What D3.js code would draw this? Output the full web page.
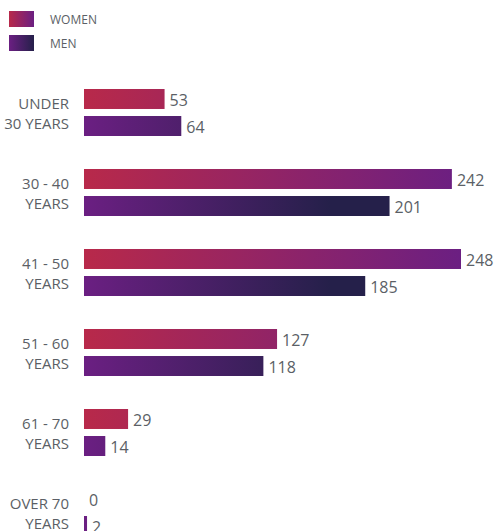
<!DOCTYPE html>
<html>
<head>
<meta charset="utf-8">
<script src="https://cdn.jsdelivr.net/npm/d3@7"></script>
<style>
  body { margin: 0; background: #fff; }
  text { font-family: "Open Sans", sans-serif; fill: #5b5f66; }
</style>
</head>
<body>
<script>
// data
var CATEGORIES = [["UNDER", "30 YEARS"], ["30 - 40", "YEARS"], ["41 - 50", "YEARS"],
                  ["51 - 60", "YEARS"], ["61 - 70", "YEARS"], ["OVER 70", "YEARS"]];
var SERIES = ["WOMEN", "MEN"];
var WOMEN = [53, 242, 248, 127, 29, 0];
var MEN = [64, 201, 185, 118, 14, 2];

var W = 499, H = 531;
var MARGINS = {top: 89, left: 84};

var svg = d3.select("body").append("svg")
    .attr("width", W)
    .attr("height", H);

// gradients
var defs = svg.append("defs");
var gWomen = defs.append("linearGradient").attr("id", "gWomen")
    .attr("gradientUnits", "userSpaceOnUse")
    .attr("x1", 84).attr("x2", 461).attr("y1", 0).attr("y2", 0);
gWomen.append("stop").attr("offset", 0).attr("stop-color", "#b8294a");
gWomen.append("stop").attr("offset", 1).attr("stop-color", "#6b1f82");
var gMen = defs.append("linearGradient").attr("id", "gMen")
    .attr("gradientUnits", "userSpaceOnUse")
    .attr("x1", 84).attr("x2", 330).attr("y1", 0).attr("y2", 0);
gMen.append("stop").attr("offset", 0).attr("stop-color", "#6b1f82");
gMen.append("stop").attr("offset", 1).attr("stop-color", "#25204a");

// legend swatches use their own gradients
var lgW = defs.append("linearGradient").attr("id", "lgWomen");
lgW.append("stop").attr("offset", 0).attr("stop-color", "#b8294a");
lgW.append("stop").attr("offset", 1).attr("stop-color", "#6b1f82");
var lgM = defs.append("linearGradient").attr("id", "lgMen");
lgM.append("stop").attr("offset", 0).attr("stop-color", "#6b1f82");
lgM.append("stop").attr("offset", 1).attr("stop-color", "#25204a");

// scales
var xScale = d3.scaleLinear().domain([0, 248]).range([MARGINS.left, 461]);
var yScale = d3.scaleBand()
    .domain(d3.range(CATEGORIES.length))
    .range([MARGINS.top, MARGINS.top + 80 * CATEGORIES.length]);
var sub = d3.scaleBand().domain(SERIES).range([0, 47]).paddingInner(0.26);

// legend
var legend = svg.append("g");
SERIES.forEach(function (s, i) {
    legend.append("rect")
        .attr("x", 9).attr("y", 11 + i * 24)
        .attr("width", 25).attr("height", 16)
        .attr("fill", i === 0 ? "url(#lgWomen)" : "url(#lgMen)");
    legend.append("text")
        .attr("x", 50).attr("y", 24 + i * 24)
        .style("font-size", "12px")
        .text(s);
});

// groups
var groups = svg.selectAll("g.group")
    .data(CATEGORIES)
    .enter().append("g")
    .attr("class", "group")
    .attr("transform", function (d, i) { return "translate(0," + yScale(i) + ")"; });

groups.append("text")
    .attr("text-anchor", "end")
    .style("font-size", "15px")
    .selectAll("tspan")
    .data(function (d) { return d; })
    .enter().append("tspan")
    .attr("x", 69)
    .attr("y", function (d, i) { return 20 + i * 20; })
    .text(function (d) { return d; });

[WOMEN, MEN].forEach(function (vals, k) {
    var s = SERIES[k];
    groups.append("rect")
        .attr("x", xScale(0))
        .attr("y", sub(s))
        .attr("height", sub.bandwidth())
        .attr("width", function (d, i) { return xScale(vals[i]) - xScale(0); })
        .attr("fill", k === 0 ? "url(#gWomen)" : "url(#gMen)");
    groups.append("text")
        .attr("x", function (d, i) { return xScale(vals[i]) + 5; })
        .attr("y", sub(s) + 17)
        .style("font-size", "16px")
        .text(function (d, i) { return vals[i]; });
});
</script>
</body>
</html>
